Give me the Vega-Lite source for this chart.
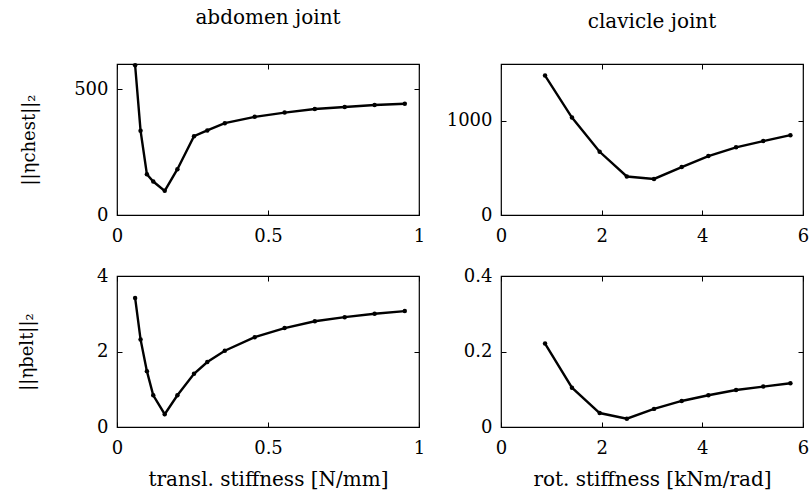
{
  "$schema": "https://vega.github.io/schema/vega-lite/v6.json",
  "padding": {"left": 17, "top": 7, "right": 5, "bottom": 5},
  "background": "white",
  "config": {
    "font": "DejaVu Serif",
    "view": {"stroke": "black", "strokeWidth": 1.2},
    "axis": {
      "grid": false,
      "domain": false,
      "tickColor": "black",
      "tickSize": -5,
      "labelColor": "black",
      "labelFont": "DejaVu Serif",
      "labelFontSize": 18,
      "labelFlush": false,
      "labelOverlap": false,
      "format": "~r",
      "titleFont": "DejaVu Serif",
      "titleFontSize": 20,
      "titleFontWeight": "normal",
      "titleColor": "black"
    },
    "title": {"font": "DejaVu Serif", "fontSize": 20, "fontWeight": "normal", "color": "black", "baseline": "alphabetic"}
  },
  "datasets": {
    "abd_chest": [
      {"k": 0.06, "eta": 595}, {"k": 0.078, "eta": 335}, {"k": 0.099, "eta": 162},
      {"k": 0.12, "eta": 133}, {"k": 0.158, "eta": 96}, {"k": 0.2, "eta": 182},
      {"k": 0.255, "eta": 313}, {"k": 0.299, "eta": 336}, {"k": 0.357, "eta": 365},
      {"k": 0.456, "eta": 390}, {"k": 0.555, "eta": 407}, {"k": 0.655, "eta": 421},
      {"k": 0.754, "eta": 429}, {"k": 0.853, "eta": 437}, {"k": 0.953, "eta": 442}
    ],
    "abd_belt": [
      {"k": 0.06, "eta": 3.42}, {"k": 0.078, "eta": 2.32}, {"k": 0.099, "eta": 1.48},
      {"k": 0.12, "eta": 0.84}, {"k": 0.158, "eta": 0.34}, {"k": 0.2, "eta": 0.84},
      {"k": 0.255, "eta": 1.41}, {"k": 0.299, "eta": 1.72}, {"k": 0.357, "eta": 2.02},
      {"k": 0.456, "eta": 2.38}, {"k": 0.555, "eta": 2.62}, {"k": 0.655, "eta": 2.8},
      {"k": 0.754, "eta": 2.91}, {"k": 0.853, "eta": 3.0}, {"k": 0.953, "eta": 3.07}
    ],
    "clav_chest": [
      {"k": 0.875, "eta": 1477}, {"k": 1.41, "eta": 1032}, {"k": 1.96, "eta": 670},
      {"k": 2.5, "eta": 408}, {"k": 3.04, "eta": 382}, {"k": 3.59, "eta": 508},
      {"k": 4.12, "eta": 624}, {"k": 4.67, "eta": 717}, {"k": 5.21, "eta": 783},
      {"k": 5.75, "eta": 846}
    ],
    "clav_belt": [
      {"k": 0.875, "eta": 0.221}, {"k": 1.41, "eta": 0.104}, {"k": 1.96, "eta": 0.037},
      {"k": 2.5, "eta": 0.022}, {"k": 3.04, "eta": 0.048}, {"k": 3.59, "eta": 0.069},
      {"k": 4.12, "eta": 0.084}, {"k": 4.67, "eta": 0.098}, {"k": 5.21, "eta": 0.107},
      {"k": 5.75, "eta": 0.116}
    ]
  },
  "concat": [
    {
      "width": 302, "height": 151,
      "data": {"name": "abd_chest"},
      "title": {"text": "abdomen joint", "offset": 32},
      "layer": [
        {"mark": {"type": "line", "color": "black", "strokeWidth": 2.4},
         "encoding": {
           "x": {"field": "k", "type": "quantitative", "scale": {"domain": [0, 1]}, "axis": {"orient": "bottom", "values": [0, 0.5, 1], "title": null, "labelPadding": 17}},
           "y": {"field": "eta", "type": "quantitative", "scale": {"domain": [0, 600]}, "axis": {"orient": "left", "values": [0, 500], "title": "||ηchest||₂", "titleFontSize": 18, "labelPadding": 14, "titlePadding": 35}}
         }},
        {"mark": {"type": "point", "filled": true, "color": "black", "size": 20, "opacity": 1},
         "encoding": {
           "x": {"field": "k", "type": "quantitative", "axis": {"orient": "top", "values": [0, 0.5, 1], "labels": false, "title": null}},
           "y": {"field": "eta", "type": "quantitative", "axis": {"orient": "right", "values": [0, 500], "labels": false, "title": null}}
         }}
      ],
      "resolve": {"axis": {"x": "independent", "y": "independent"}}
    },
    {
      "width": 302, "height": 151,
      "data": {"name": "clav_chest"},
      "title": {"text": "clavicle joint", "offset": 32},
      "layer": [
        {"mark": {"type": "line", "color": "black", "strokeWidth": 2.4},
         "encoding": {
           "x": {"field": "k", "type": "quantitative", "scale": {"domain": [0, 6]}, "axis": {"orient": "bottom", "values": [0, 2, 4, 6], "title": null, "labelPadding": 17}},
           "y": {"field": "eta", "type": "quantitative", "scale": {"domain": [0, 1500]}, "axis": {"orient": "left", "values": [0, 1000], "title": null, "labelPadding": 14}}
         }},
        {"mark": {"type": "point", "filled": true, "color": "black", "size": 20, "opacity": 1},
         "encoding": {
           "x": {"field": "k", "type": "quantitative", "axis": {"orient": "top", "values": [0, 2, 4, 6], "labels": false, "title": null}},
           "y": {"field": "eta", "type": "quantitative", "axis": {"orient": "right", "values": [0, 1000], "labels": false, "title": null}}
         }}
      ],
      "resolve": {"axis": {"x": "independent", "y": "independent"}}
    },
    {
      "width": 302, "height": 151,
      "data": {"name": "abd_belt"},
      "layer": [
        {"mark": {"type": "line", "color": "black", "strokeWidth": 2.4},
         "encoding": {
           "x": {"field": "k", "type": "quantitative", "scale": {"domain": [0, 1]}, "axis": {"orient": "bottom", "values": [0, 0.5, 1], "title": "transl. stiffness [N/mm]", "labelPadding": 17, "titlePadding": 12}},
           "y": {"field": "eta", "type": "quantitative", "scale": {"domain": [0, 4]}, "axis": {"orient": "left", "values": [0, 2, 4], "title": "||ηbelt||₂", "titleFontSize": 18, "labelPadding": 14, "titlePadding": 60}}
         }},
        {"mark": {"type": "point", "filled": true, "color": "black", "size": 20, "opacity": 1},
         "encoding": {
           "x": {"field": "k", "type": "quantitative", "axis": {"orient": "top", "values": [0, 0.5, 1], "labels": false, "title": null}},
           "y": {"field": "eta", "type": "quantitative", "axis": {"orient": "right", "values": [0, 2, 4], "labels": false, "title": null}}
         }}
      ],
      "resolve": {"axis": {"x": "independent", "y": "independent"}}
    },
    {
      "width": 302, "height": 151,
      "data": {"name": "clav_belt"},
      "layer": [
        {"mark": {"type": "line", "color": "black", "strokeWidth": 2.4},
         "encoding": {
           "x": {"field": "k", "type": "quantitative", "scale": {"domain": [0, 6]}, "axis": {"orient": "bottom", "values": [0, 2, 4, 6], "title": "rot. stiffness [kNm/rad]", "labelPadding": 17, "titlePadding": 12}},
           "y": {"field": "eta", "type": "quantitative", "scale": {"domain": [0, 0.4]}, "axis": {"orient": "left", "values": [0, 0.2, 0.4], "title": null, "labelPadding": 14}}
         }},
        {"mark": {"type": "point", "filled": true, "color": "black", "size": 20, "opacity": 1},
         "encoding": {
           "x": {"field": "k", "type": "quantitative", "axis": {"orient": "top", "values": [0, 2, 4, 6], "labels": false, "title": null}},
           "y": {"field": "eta", "type": "quantitative", "axis": {"orient": "right", "values": [0, 0.2, 0.4], "labels": false, "title": null}}
         }}
      ],
      "resolve": {"axis": {"x": "independent", "y": "independent"}}
    }
  ],
  "columns": 2,
  "bounds": "flush",
  "spacing": {"row": 61, "column": 82}
}
